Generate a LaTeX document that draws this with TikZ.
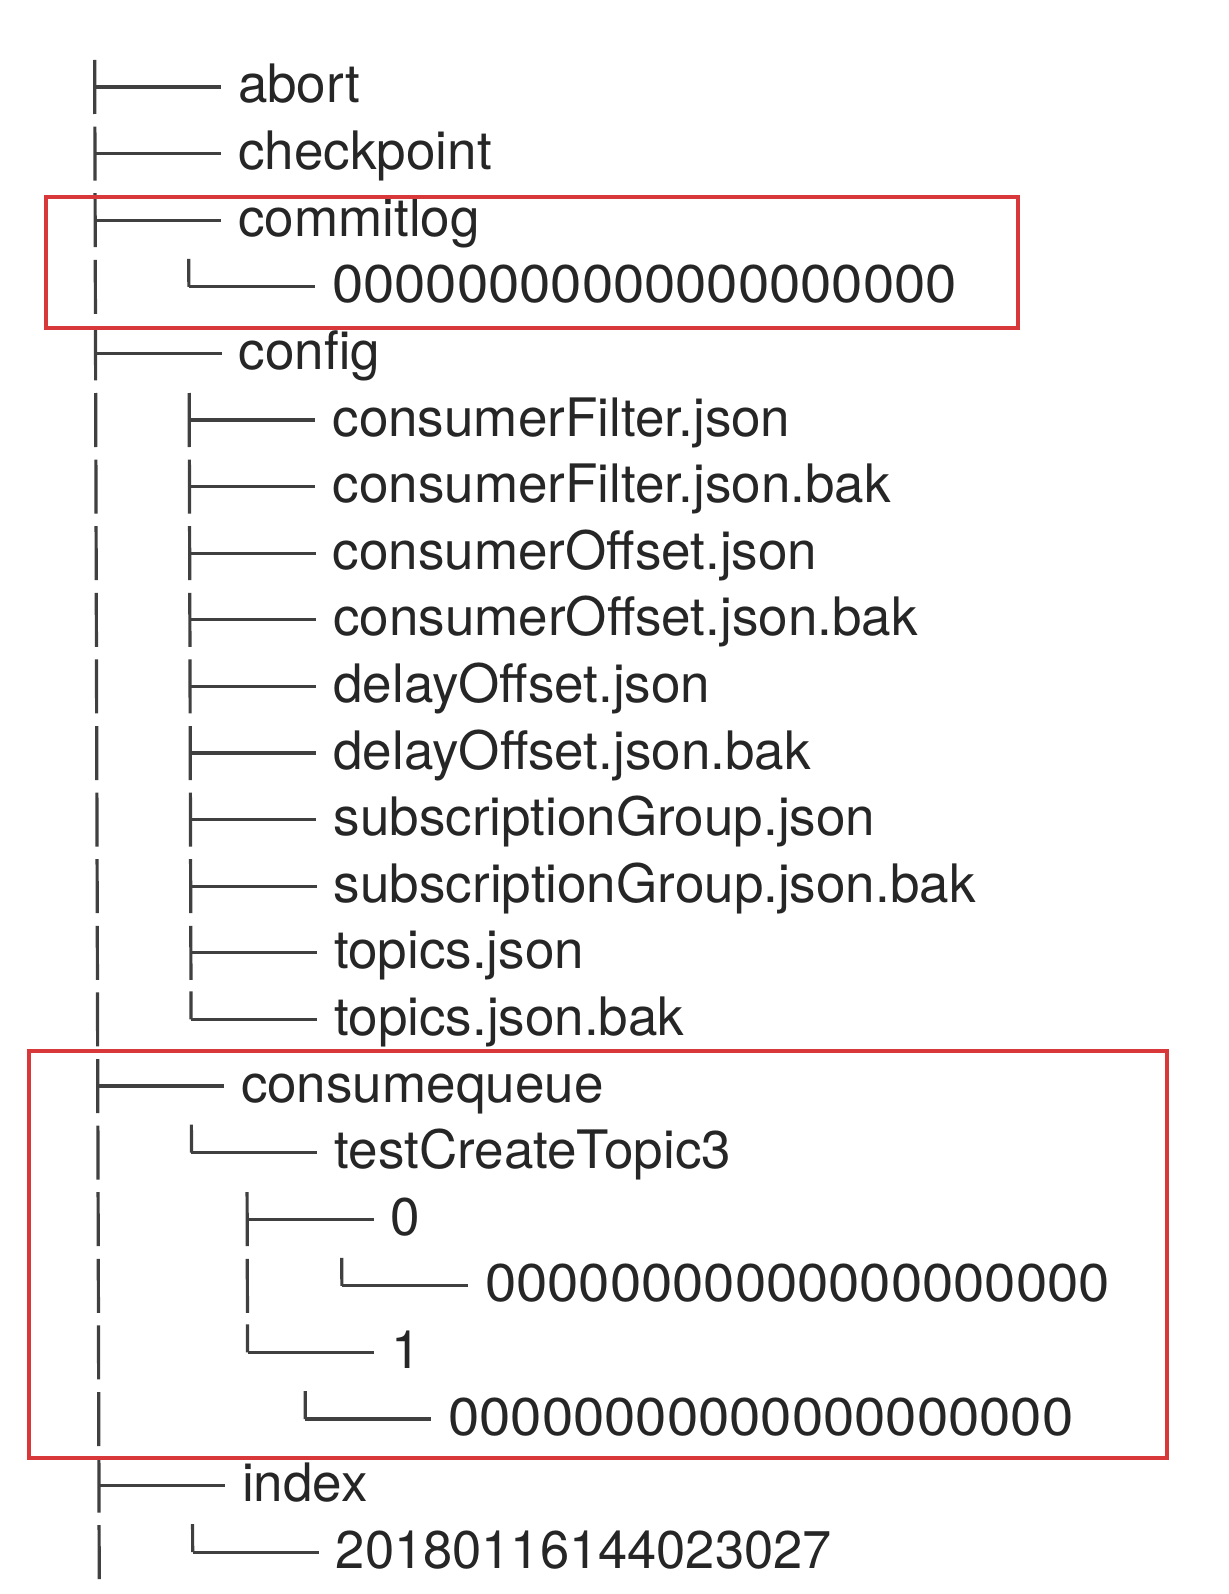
\documentclass[tikz,border=0pt]{standalone}
\usepackage{fontspec}
\setmainfont{TeX Gyre Heros}
\definecolor{txt}{HTML}{262626}
\definecolor{ln}{HTML}{404040}
\definecolor{redbox}{HTML}{D8383A}
\tikzset{
  lbl/.style={font=\fontsize{53}{60}\selectfont, text=txt, inner sep=0pt, anchor=base west},
  br/.style={draw=ln, line width=3.2pt, shorten >=17pt},
  bar/.style={draw=ln, line width=3.2pt},
  hlbox/.style={draw=redbox, line width=4pt}
}
\newcommand\zeros{\scalebox{1.06}[1]{00000000000000000000}}
\begin{document}
\begin{tikzpicture}[x=1pt,y=-1pt]
\useasboundingbox[fill=white] (0,0) rectangle (1228,1594);
\begin{scope}[xslant=-0.003]
% level-1 vertical bars (one glyph per row)
\foreach \r in {0,...,22} {
  \draw[bar] (94.5,{87+66.6*\r-27}) -- (94.5,{87+66.6*\r+27});
}
% level-1 entries
\node[lbl] (abort)  at (237.5,{87+66.6*0+16}) {abort};
\node[lbl] (checkp) at (237.5,{87+66.6*1+16}) {checkpoint};
\node[lbl] (commit) at (237.5,{87+66.6*2+16}) {commitlog};
\node[lbl] (config) at (237.5,{87+66.6*4+16}) {config};
\node[lbl] (cq)     at (237.5,{87+66.6*15+16}) {consumequeue};
\node[lbl] (index)  at (237.5,{87+66.6*21+16}) {index};
\foreach \n/\r in {abort/0,checkp/1,commit/2,config/4,cq/15,index/21} {
  \draw[br] (94.5,{87+66.6*\r}) -- ([yshift=16pt]\n.base west);
}
% level-2 entries
\node[lbl] (clz)  at (331,{87+66.6*3+16}) {\zeros};
\node[lbl] (c5)  at (331,{87+66.6*5+16}) {consumerFilter.json};
\node[lbl] (c6)  at (331,{87+66.6*6+16}) {consumerFilter.json.bak};
\node[lbl] (c7)  at (331,{87+66.6*7+16}) {consumerOffset.json};
\node[lbl] (c8)  at (331,{87+66.6*8+16}) {consumerOffset.json.bak};
\node[lbl] (c9)  at (331,{87+66.6*9+16}) {delayOffset.json};
\node[lbl] (c10) at (331,{87+66.6*10+16}) {delayOffset.json.bak};
\node[lbl] (c11) at (331,{87+66.6*11+16}) {subscriptionGroup.json};
\node[lbl] (c12) at (331,{87+66.6*12+16}) {subscriptionGroup.json.bak};
\node[lbl] (c13) at (331,{87+66.6*13+16}) {topics.json};
\node[lbl] (c14) at (331,{87+66.6*14+16}) {topics.json.bak};
\node[lbl] (topic) at (331,{87+66.6*16+16}) {testCreateTopic3};
\node[lbl] (idx0)  at (331,{87+66.6*22+16}) {\scalebox{0.99}[1]{20180116144023027}};
% config children: tee glyphs
\foreach \r in {5,...,13} {
  \draw[bar] (188,{87+66.6*\r-27}) -- (188,{87+66.6*\r+27});
}
\foreach \n/\r in {c5/5,c6/6,c7/7,c8/8,c9/9,c10/10,c11/11,c12/12,c13/13} {
  \draw[br] (188,{87+66.6*\r}) -- ([yshift=16pt]\n.base west);
}
% corner glyphs at level 2
\foreach \n/\r in {clz/3,c14/14,topic/16,idx0/22} {
  \draw[bar] (188,{87+66.6*\r-28}) -- (188,{87+66.6*\r});
  \draw[br] (188,{87+66.6*\r}) -- ([yshift=16pt]\n.base west);
}
% level-3 entries (queue ids)
\node[lbl] (q0) at (387,{87+66.6*17+16}) {0};
\node[lbl] (q1) at (387,{87+66.6*19+16}) {1};
\draw[bar] (243.5,{87+66.6*17-27}) -- (243.5,{87+66.6*17+27});
\draw[bar] (243.5,{87+66.6*18-27}) -- (243.5,{87+66.6*18+27});
\draw[bar] (243.5,{87+66.6*19-28}) -- (243.5,{87+66.6*19});
\draw[br] (243.5,{87+66.6*17}) -- ([yshift=16pt]q0.base west);
\draw[br] (243.5,{87+66.6*19}) -- ([yshift=16pt]q1.base west);
% level-4 entries
\node[lbl] (q0f) at (481,{87+66.6*18+16}) {\zeros};
\node[lbl] (q1f) at (444,{87+66.6*20+16}) {\zeros};
\draw[bar] (338,{87+66.6*18-28}) -- (338,{87+66.6*18});
\draw[br] (338,{87+66.6*18}) -- ([yshift=16pt]q0f.base west);
\draw[bar] (301,{87+66.6*20-28}) -- (301,{87+66.6*20});
\draw[br] (301,{87+66.6*20}) -- ([yshift=16pt]q1f.base west);
\end{scope}
% highlight boxes
\draw[hlbox] (46,197) rectangle (1018,328);
\draw[hlbox] (28.5,1051) rectangle (1167,1458);
\end{tikzpicture}
\end{document}
